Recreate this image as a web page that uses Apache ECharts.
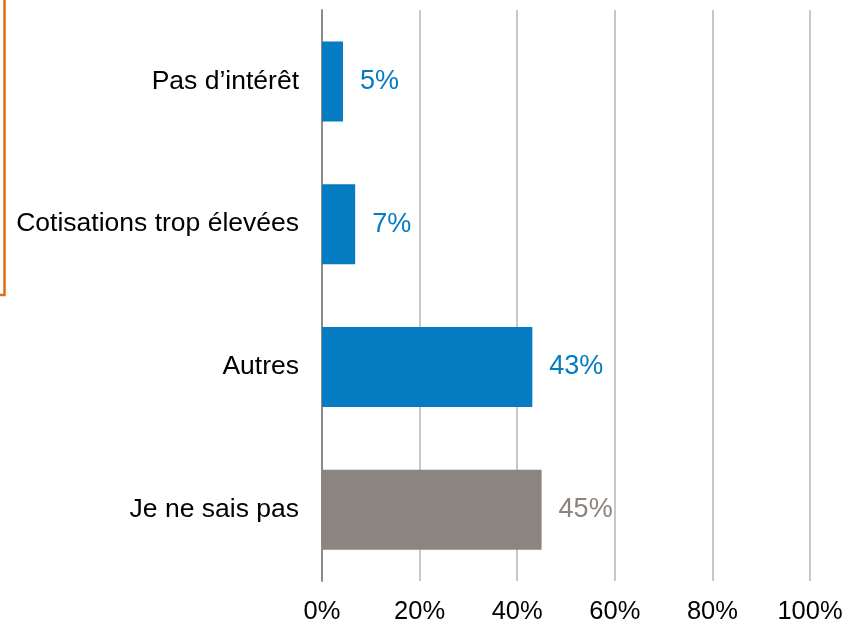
<!DOCTYPE html>
<html>
<head>
<meta charset="utf-8">
<script src="https://cdn.jsdelivr.net/npm/echarts@6/dist/echarts.min.js"></script>
<style>
  html, body { margin: 0; padding: 0; background: #fff; }
  #chart { width: 846px; height: 625px; }
</style>
</head>
<body>
<div id="chart"></div>
<script>
  // data
  const categories = ['Pas d\u2019intérêt', 'Cotisations trop élevées', 'Autres', 'Je ne sais pas']
  const values = [4.3, 6.8, 43.1, 45]
  const labels = ['5%', '7%', '43%', '45%']
  const xTicks = [0, 20, 40, 60, 80, 100]

  const BLUE = '#057bc1'
  const GREY = '#8c857f'
  const barColors = [BLUE, BLUE, BLUE, GREY]

  const myChart = echarts.init(document.getElementById('chart'))

  const option = {
    backgroundColor: '#fff',
    animation: false,
    textStyle: { fontFamily: '"Liberation Sans", Arial, sans-serif' },
    grid: { left: 322, right: 36, top: 10, bottom: 42 },
    xAxis: {
      type: 'value',
      min: xTicks[0],
      max: xTicks[xTicks.length - 1],
      interval: 20,
      axisLine: { show: false },
      axisTick: { show: false },
      splitLine: { lineStyle: { color: '#c8c8c8', width: 2 } },
      axisLabel: {
        formatter: '{value}%',
        fontSize: 25.5,
        color: '#000',
        margin: 18
      }
    },
    yAxis: {
      type: 'category',
      inverse: true,
      data: categories,
      axisTick: { show: false },
      axisLine: { lineStyle: { color: '#8c8c8c', width: 2 } },
      axisLabel: { fontSize: 26.5, color: '#000', margin: 23 }
    },
    series: [
      {
        type: 'bar',
        data: values,
        barWidth: 80,
        itemStyle: {
          color: (p) => barColors[p.dataIndex]
        },
        label: {
          show: true,
          position: 'right',
          distance: 17,
          fontSize: 27,
          formatter: (p) => labels[p.dataIndex],
          color: 'inherit'
        }
      }
    ],
    graphic: [
      {
        type: 'polyline',
        shape: { points: [[4.5, 0], [4.5, 295], [0, 295]] },
        style: { stroke: '#e46c0a', lineWidth: 2.5, fill: null }
      }
    ]
  }

  myChart.setOption(option)
</script>
</body>
</html>
